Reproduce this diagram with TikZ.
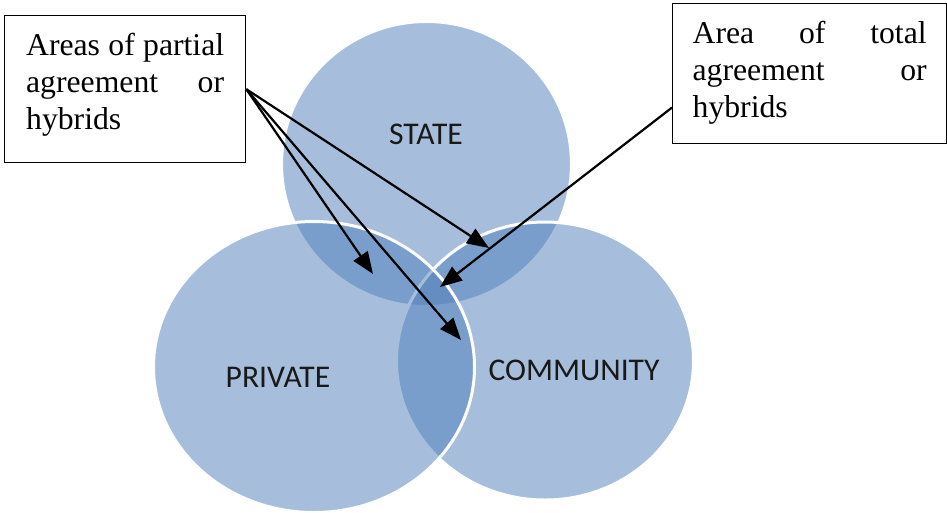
\documentclass[tikz,border=0pt]{standalone}
\usepackage{fontspec}
\setmainfont{Liberation Serif}
\newfontfamily\lblfont{Carlito}
\usetikzlibrary{arrows.meta,calc,shapes.geometric}
\definecolor{vennblue}{RGB}{79,127,187}
\definecolor{lbltext}{RGB}{25,25,25}
\begin{document}
\begin{tikzpicture}[x=1pt,y=-1pt,
  vennset/.style={ellipse,draw=white,line width=3pt,fill=vennblue,fill opacity=0.5,draw opacity=1,inner sep=0pt},
  setlabel/.style={font=\lblfont\fontsize{31.6}{34}\selectfont,text=lbltext,inner sep=0pt},
  notebox/.style={draw=black,line width=1.3pt,fill=white,align=justify,
    font=\fontsize{31.7}{37}\selectfont,inner ysep=0pt,anchor=north west},
  pointer/.style={draw=black,line width=2.2pt,-{Triangle[length=22pt,width=17pt]}}]
\useasboundingbox (0,0) rectangle (947,512);
\fill[white] (0,0) rectangle (947,512);
% sets
\node[vennset,minimum width=290pt,minimum height=285pt] (state) at (426.5,164) {};
\node[vennset,minimum width=297pt,minimum height=278pt] (community) at (545,361) {};
\node[vennset,minimum width=321pt,minimum height=291pt] (private) at (314,367) {};
% set labels
\node[setlabel] (statelbl) at (426,134) {STATE};
\node[setlabel] (privatelbl) at (278,377) {PRIVATE};
\node[setlabel] (communitylbl) at (574,370) {COMMUNITY};
% note boxes
\node[notebox,text width=198pt,inner xsep=21.5pt,minimum height=147pt] (partial) at (4,15)
  {Areas of partial\linebreak agreement or\linebreak hybrids\par\kern8pt};
\node[notebox,text width=234pt,inner xsep=20pt,minimum height=140pt] (total) at (672,3)
  {Area of total\linebreak agreement or\linebreak hybrids\par\kern2pt};
% pointer ends
\coordinate (tipa) at (373,274);
\coordinate (tipb) at (461,340);
\coordinate (tipc) at (489,248);
\coordinate (tipd) at (440,287);
\coordinate (totalstart) at ($(total.south west)!0.26!(total.north west)$);
\draw[pointer] (partial.east) -- (tipa);
\draw[pointer] (partial.east) -- (tipb);
\draw[pointer] (partial.east) -- (tipc);
\draw[pointer] (totalstart) -- (tipd);
\end{tikzpicture}
\end{document}
